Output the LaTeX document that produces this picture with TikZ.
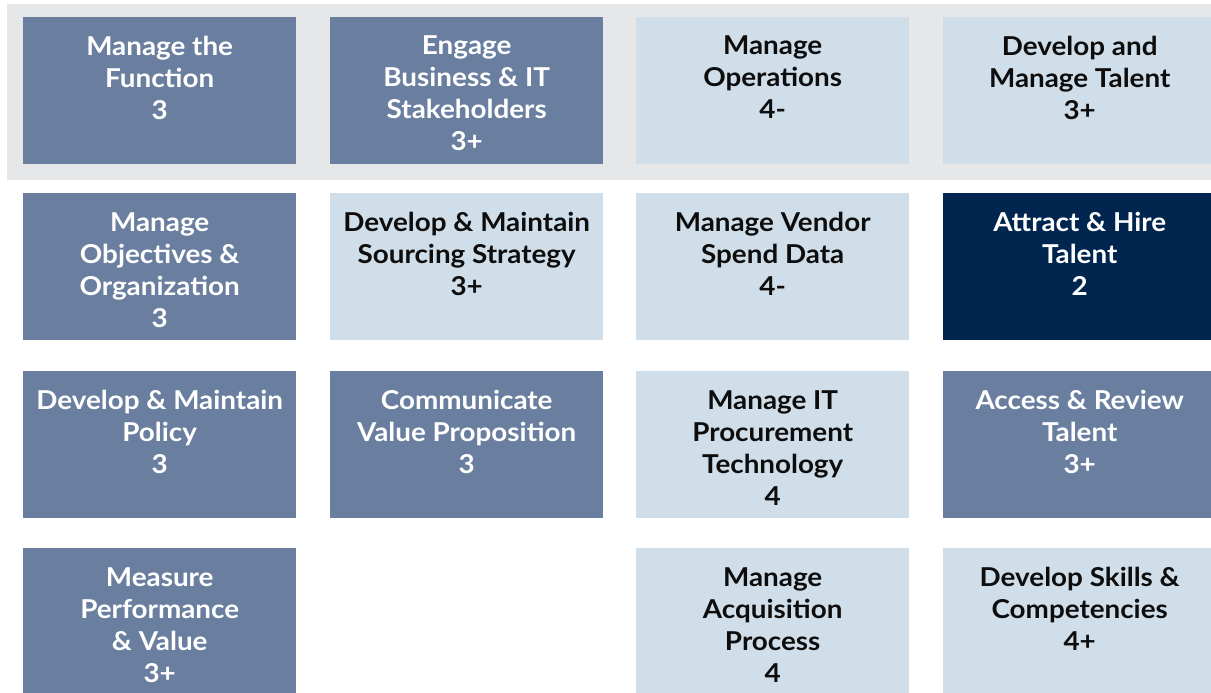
\documentclass[tikz,border=0pt]{standalone}
\usepackage{fontspec}
\setmainfont{Lato}[FakeStretch=1.07]
\usepackage{xcolor}
\usepackage{tikz}
\usetikzlibrary{positioning}

\definecolor{slateblue}{HTML}{6A7FA0}
\definecolor{paleblue}{HTML}{D0DEE9}
\definecolor{navyblue}{HTML}{00264F}
\definecolor{bandgray}{HTML}{E6E7E9}

\begin{document}
\begin{tikzpicture}[x=1pt, y=-1pt,
    areabox/.style={rectangle, minimum width=273pt, minimum height=147pt, inner sep=0pt, anchor=north west},
    darkbox/.style={areabox, fill=slateblue},
    lightbox/.style={areabox, fill=paleblue},
    navybox/.style={areabox, fill=navyblue},
    boxtext/.style={anchor=north, inner sep=0pt, align=center, font=\fontsize{26}{32}\selectfont\bfseries},
    whitetext/.style={boxtext, text=white},
    blacktext/.style={boxtext, text=black!95}]
    \useasboundingbox (0,0) rectangle (1211,693);

    % Top band
    \fill[bandgray] (7,4) rectangle (1220,180);

    % Column 1
    \node[darkbox] (mf) at (23,17) {};
    \node[whitetext, below=19pt of mf.north] (mft) {Manage the\\Function\\3};
    \node[darkbox] (mo) at (23,193) {};
    \node[whitetext, below=19pt of mo.north] (mot) {Manage\\Objectives \&\\Organization\\3};
    \node[darkbox] (dp) at (23,371) {};
    \node[whitetext, below=19pt of dp.north] (dpt) {Develop \& Maintain\\Policy\\3};
    \node[darkbox] (mp) at (23,548) {};
    \node[whitetext, below=19pt of mp.north] (mpt) {Measure\\Performance\\\& Value\\3+};

    % Column 2
    \node[darkbox] (eb) at (330,17) {};
    \node[whitetext, below=19pt of eb.north] (ebt) {Engage\\Business \& IT\\Stakeholders\\3+};
    \node[lightbox] (ds) at (330,193) {};
    \node[blacktext, below=19pt of ds.north] (dst) {Develop \& Maintain\\Sourcing Strategy\\3+};
    \node[darkbox] (cv) at (330,371) {};
    \node[whitetext, below=19pt of cv.north] (cvt) {Communicate\\Value Proposition\\3};

    % Column 3
    \node[lightbox] (mop) at (636,17) {};
    \node[blacktext, below=19pt of mop.north] (mopt) {Manage\\Operations\\4-};
    \node[lightbox] (mv) at (636,193) {};
    \node[blacktext, below=19pt of mv.north] (mvt) {Manage Vendor\\Spend Data\\4-};
    \node[lightbox] (mi) at (636,371) {};
    \node[blacktext, below=19pt of mi.north] (mit) {Manage IT\\Procurement\\Technology\\4};
    \node[lightbox] (ma) at (636,548) {};
    \node[blacktext, below=19pt of ma.north] (mat) {Manage\\Acquisition\\Process\\4};

    % Column 4
    \node[lightbox] (dm) at (943,17) {};
    \node[blacktext, below=19pt of dm.north] (dmt) {Develop and\\Manage Talent\\3+};
    \node[navybox] (ah) at (943,193) {};
    \node[whitetext, below=19pt of ah.north] (aht) {Attract \& Hire\\Talent\\2};
    \node[darkbox] (ar) at (943,371) {};
    \node[whitetext, below=19pt of ar.north] (art) {Access \& Review\\Talent\\3+};
    \node[lightbox] (dsc) at (943,548) {};
    \node[blacktext, below=19pt of dsc.north] (dsct) {Develop Skills \&\\Competencies\\4+};
\end{tikzpicture}
\end{document}
